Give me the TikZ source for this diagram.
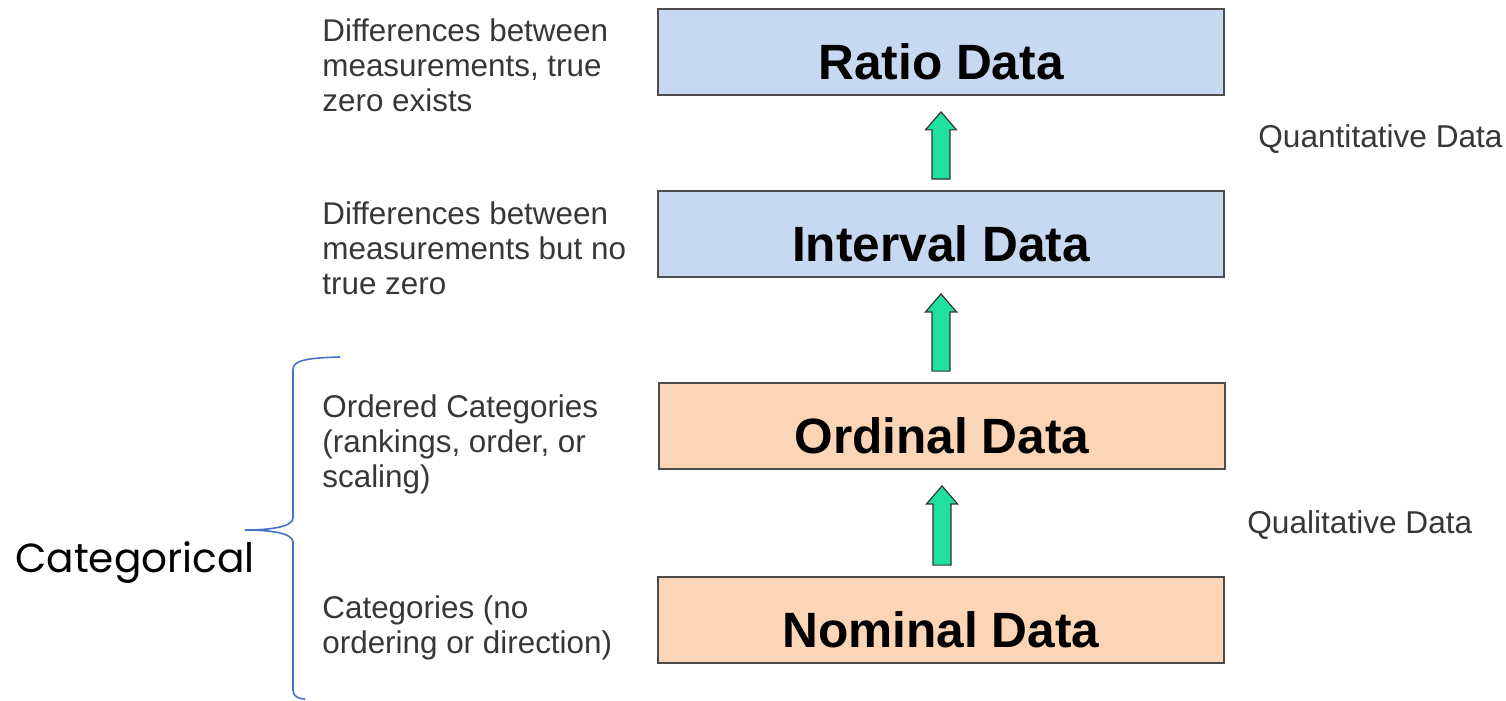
\documentclass[tikz,border=0pt]{standalone}
\usepackage{fontspec}
\setmainfont{Liberation Sans}
\newfontfamily\handfont{Poppins}
\usetikzlibrary{calc}
\definecolor{boxblue}{RGB}{198,217,241}
\definecolor{boxorange}{RGB}{251,213,181}
\definecolor{arrowgreen}{RGB}{32,224,160}
\definecolor{bracecol}{RGB}{68,114,196}
\definecolor{txtgray}{RGB}{55,55,55}
\newcommand{\blockarrow}[2]{%
  \draw[blockarr] ($(#2.south |- #1.north)+(-9,-11)$) -- ($(#2.south)+(-9,34)$) -- ($(#2.south)+(-15.5,34)$)
    -- ($(#2.south)+(0,16)$) -- ($(#2.south)+(15.5,34)$) -- ($(#2.south)+(9,34)$)
    -- ($(#2.south |- #1.north)+(9,-11)$) -- cycle;}
\newcommand{\boxtext}[1]{\raisebox{-5pt}[\height][\depth]{#1}}
\begin{document}
\begin{tikzpicture}[x=0.5pt,y=-0.5pt,
  databox/.style={draw=black!70,line width=0.9pt,minimum width=283pt,minimum height=43pt,inner sep=0pt,font=\fontsize{24.8}{28}\selectfont\bfseries},
  bluebox/.style={databox,fill=boxblue},
  orangebox/.style={databox,fill=boxorange},
  blockarr/.style={draw=black!80,line width=0.6pt,fill=arrowgreen,line join=miter},
  desc/.style={anchor=west,align=left,text=txtgray,inner sep=0pt,font=\fontsize{15.7}{17.5}\selectfont},
  side/.style={anchor=west,text=txtgray,inner sep=0pt,font=\fontsize{15.8}{18}\selectfont}]
\useasboundingbox (0,0) rectangle (1506,701);
\node[bluebox] (ratio) at (941,52) {\boxtext{Ratio Data}};
\node[bluebox] (interval) at (941,234) {\boxtext{Interval Data}};
\node[orangebox] (ordinal) at (942,426) {\boxtext{Ordinal Data}};
\node[orangebox] (nominal) at (941,620) {\boxtext{Nominal Data}};
\blockarrow{interval}{ratio}
\blockarrow{ordinal}{interval}
\blockarrow{nominal}{ordinal}
\node[desc] (d1) at (322,65) {Differences between\\measurements, true\\zero exists};
\node[desc] (d2) at (322,248) {Differences between\\measurements but no\\true zero};
\node[desc] (d3) at (322,444) {Ordered Categories\\(rankings, order, or\\scaling)};
\node[desc] (d4) at (322,628) {Categories (no\\ordering or direction)};
\node[side] (quant) at (1258,139) {Quantitative Data};
\node[side] (qual) at (1247,525) {Qualitative Data};
\node[anchor=west,inner sep=0pt,font=\handfont\fontsize{20.3}{24}\selectfont] (cat) at (15,563) {Categorical};
\coordinate (btop) at (340,357);
\coordinate (bmid) at (245,530);
\coordinate (bbot) at (305,699);
\draw[bracecol,line width=0.8pt] (btop) .. controls (300,358) and (293,362) .. (293,370)
  -- (293,518) .. controls (293,527) and (270,530) .. (bmid)
  .. controls (270,530) and (293,533) .. (293,542)
  -- (293,690) .. controls (293,696) and (298,699) .. (bbot);
\end{tikzpicture}
\end{document}
